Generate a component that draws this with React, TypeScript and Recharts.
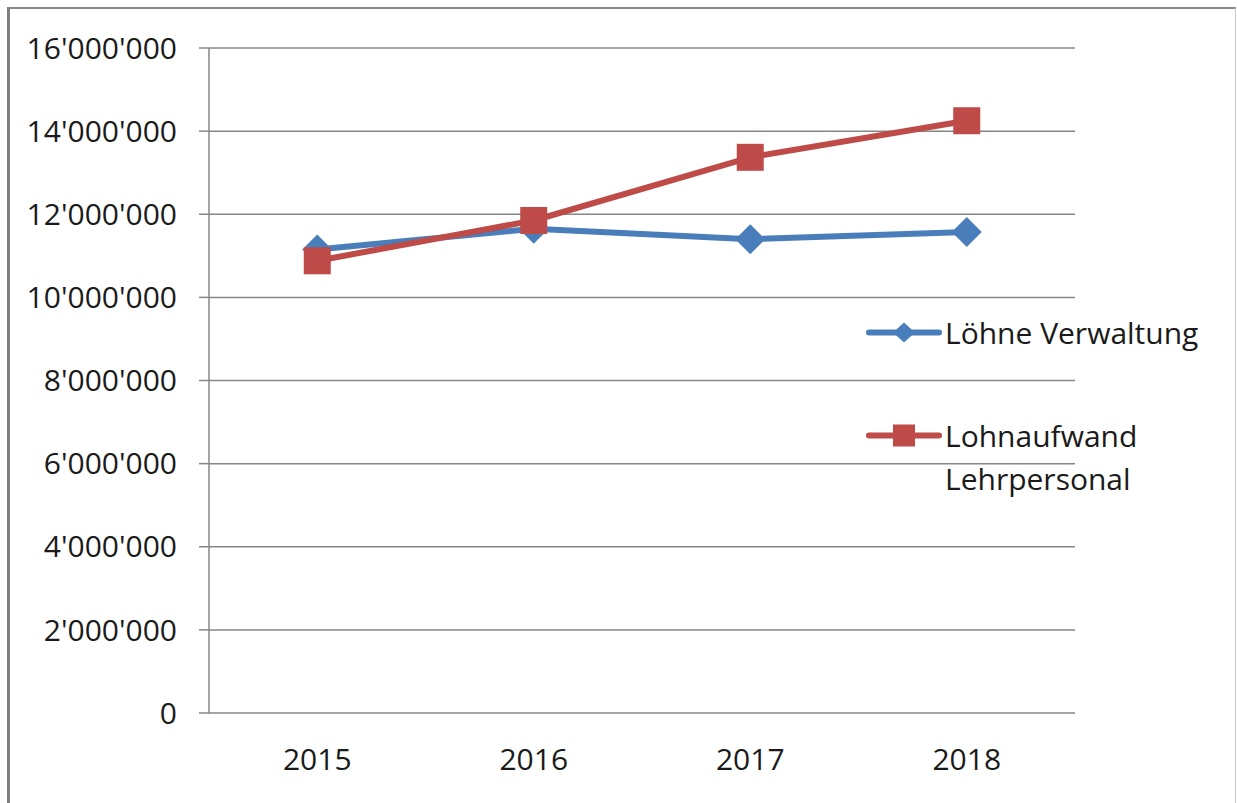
import { LineChart, Line, XAxis, YAxis, CartesianGrid, Legend } from 'recharts';

const years = ['2015', '2016', '2017', '2018'];
const loehneVerwaltung = [11150000, 11650000, 11400000, 11570000];
const lohnaufwandLehrpersonal = [10880000, 11850000, 13370000, 14250000];
const yTicks = [0, 2000000, 4000000, 6000000, 8000000, 10000000, 12000000, 14000000, 16000000];
const bandEdges = [0, 1, 2, 3, 4];
const bandCenters = [0.5, 1.5, 2.5, 3.5];

const BLUE = '#4a7ebb';
const RED = '#be4b48';
const AXIS = '#868686';
const TEXT = '#1a1a1a';
const FONT = '"Open Sans", sans-serif';

// one row per year, placed in the middle of its band on a 0..4 numeric axis
const data = years.map((year, i) => ({
  year,
  pos: bandCenters[i],
  verwaltung: loehneVerwaltung[i],
  lehrpersonal: lohnaufwandLehrpersonal[i],
}));

const swiss = (n: number) => String(n).replace(/\B(?=(\d{3})+(?!\d))/g, "'");

function DiamondDot(props: any) {
  const { cx, cy, index } = props;
  if (cx == null || cy == null) return <g key={index} />;
  const r = 15;
  return (
    <polygon
      key={index}
      points={`${cx},${cy - r} ${cx + r},${cy} ${cx},${cy + r} ${cx - r},${cy}`}
      fill={BLUE}
    />
  );
}

function SquareDot(props: any) {
  const { cx, cy, index } = props;
  if (cx == null || cy == null) return <g key={index} />;
  const s = 27;
  return <rect key={index} x={cx - s / 2} y={cy - s / 2} width={s} height={s} fill={RED} />;
}

function YearTick(props: any) {
  const { x, y, payload } = props;
  const label = years[Math.floor(payload.value)];
  return (
    <text x={x} y={y + 34} dy="0.71em" textAnchor="middle" fill={TEXT} fontSize={30} fontFamily={FONT}>
      {label}
    </text>
  );
}

function LegendIcon({ color, shape }: { color: string; shape: 'diamond' | 'square' }) {
  return (
    <svg width={76} height={43} style={{ flex: 'none' }}>
      <line x1={3} y1={21.5} x2={73} y2={21.5} stroke={color} strokeWidth={6} strokeLinecap="round" />
      {shape === 'diamond' ? (
        <polygon points="38,11.5 49,21.5 38,31.5 27,21.5" fill={color} />
      ) : (
        <rect x={27} y={10.5} width={22} height={22} fill={color} />
      )}
    </svg>
  );
}

function ChartLegend() {
  const row = { display: 'flex', alignItems: 'flex-start', gap: 3 } as const;
  const label = { width: 275, lineHeight: '43px', fontSize: 30, fontFamily: FONT, color: TEXT } as const;
  return (
    <div>
      <div style={row}>
        <LegendIcon color={BLUE} shape="diamond" />
        <div style={label}>Löhne Verwaltung</div>
      </div>
      <div style={{ ...row, marginTop: 60 }}>
        <LegendIcon color={RED} shape="square" />
        <div style={label}>Lohnaufwand Lehrpersonal</div>
      </div>
    </div>
  );
}

export default function App() {
  return (
    <div style={{ position: 'absolute', left: 0, top: 0, width: 1237, height: 803, background: '#fff', overflow: 'hidden' }}>
      <div
        style={{
          position: 'absolute',
          left: 7,
          top: 7,
          width: 1229,
          height: 820,
          boxSizing: 'border-box',
          borderLeft: '3px solid #7f7f7f',
          borderTop: '2px solid #8a8a8a',
          borderRight: '1px solid #c8c8c8',
        }}
      />
      <div style={{ position: 'absolute', left: 0, top: 0 }}>
        <LineChart width={1237} height={803} data={data} margin={{ top: 48, right: 162, bottom: 30, left: 0 }}>
          <CartesianGrid xAxisId="v" vertical={false} stroke={AXIS} strokeWidth={1.5} />
          <XAxis
            xAxisId="v"
            type="number"
            dataKey="pos"
            domain={[0, 4]}
            ticks={bandEdges}
            interval={0}
            tick={false}
            tickSize={12}
            tickLine={{ stroke: AXIS, strokeWidth: 1.5 }}
            axisLine={{ stroke: AXIS, strokeWidth: 2 }}
            height={0}
          />
          <XAxis
            xAxisId="l"
            type="number"
            dataKey="pos"
            domain={[0, 4]}
            ticks={bandCenters}
            interval={0}
            tick={<YearTick />}
            tickSize={0}
            tickLine={false}
            axisLine={false}
            height={60}
          />
          <YAxis
            domain={[0, 16000000]}
            ticks={yTicks}
            interval={0}
            width={209}
            tickSize={10}
            tickMargin={22}
            tickFormatter={swiss}
            tick={{ fill: TEXT, fontSize: 30, fontFamily: FONT }}
            tickLine={{ stroke: AXIS, strokeWidth: 1.5 }}
            axisLine={{ stroke: AXIS, strokeWidth: 1.5 }}
          />
          <Line
            xAxisId="v"
            dataKey="verwaltung"
            name="Löhne Verwaltung"
            stroke={BLUE}
            strokeWidth={6}
            dot={DiamondDot}
            activeDot={false}
            isAnimationActive={false}
          />
          <Line
            xAxisId="v"
            dataKey="lehrpersonal"
            name="Lohnaufwand Lehrpersonal"
            stroke={RED}
            strokeWidth={6}
            dot={SquareDot}
            activeDot={false}
            isAnimationActive={false}
          />
          <Legend
            layout="vertical"
            align="center"
            verticalAlign="middle"
            content={<ChartLegend />}
            wrapperStyle={{ position: 'absolute', left: 866, top: 311, width: 360 }}
          />
        </LineChart>
      </div>
    </div>
  );
}
